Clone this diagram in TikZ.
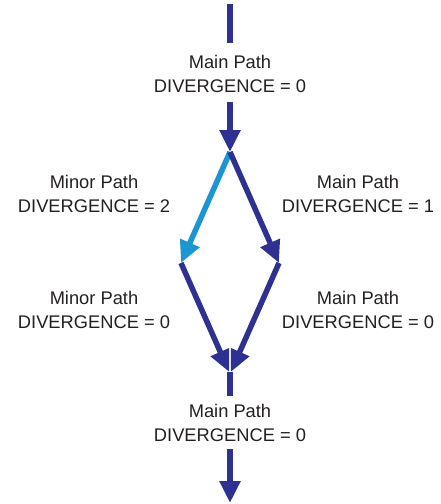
\documentclass[tikz,border=0pt]{standalone}
\usepackage{fontspec}
\setmainfont{Liberation Sans}
\usetikzlibrary{arrows.meta}
\definecolor{mainblue}{HTML}{2E3192}
\definecolor{minorblue}{HTML}{1C95D3}
\definecolor{txt}{HTML}{231F20}
\tikzset{
  lbl/.style={align=center, text=txt, inner sep=0pt,
    font=\fontsize{18.3pt}{23.5pt}\selectfont},
  mainline/.style={draw=mainblue, line width=5.5pt},
  minorline/.style={draw=minorblue, line width=5.5pt},
  tip/.style={-{Triangle[width=20pt,length=22pt]}}
}
\begin{document}
\begin{tikzpicture}[x=1pt,y=-1pt]
\useasboundingbox (0,0) rectangle (440,504);
% coordinates
\coordinate (t0) at (230,4);
\coordinate (t1) at (230,43);
\coordinate (t2) at (230,102);
\coordinate (split) at (230,152);
\coordinate (L) at (181,263);
\coordinate (R) at (279,263);
\coordinate (ML) at (229.2,372);
\coordinate (MR) at (230.8,372);
\coordinate (M) at (230,371.5);
\coordinate (M2) at (230,396);
\coordinate (b0) at (230,449);
\coordinate (b1) at (230,503);
% labels
\node[lbl] (ltop) at (230,74) {Main Path\\DIVERGENCE = 0};
\node[lbl] (lul) at (94,194) {Minor Path\\DIVERGENCE = 2};
\node[lbl] (lur) at (358,194) {Main Path\\DIVERGENCE = 1};
\node[lbl] (lll) at (94,310) {Minor Path\\DIVERGENCE = 0};
\node[lbl] (llr) at (358,310) {Main Path\\DIVERGENCE = 0};
\node[lbl] (lbot) at (230,423) {Main Path\\DIVERGENCE = 0};
% connectors
\draw[mainline] (t0) -- (t1);
\draw[mainline,tip] (t2) -- (split);
\draw[minorline,tip] (split) -- (L);
\draw[mainline,tip] (split) -- (R);
\draw[mainline] (M) -- (M2);
\begin{scope}
  \clip (150,250) rectangle (229.2,380);
  \draw[mainline,tip] (L) -- (ML);
\end{scope}
\begin{scope}
  \clip (230.8,250) rectangle (310,380);
  \draw[mainline,tip] (R) -- (MR);
\end{scope}
\draw[mainline,tip] (b0) -- (b1);
\end{tikzpicture}
\end{document}
